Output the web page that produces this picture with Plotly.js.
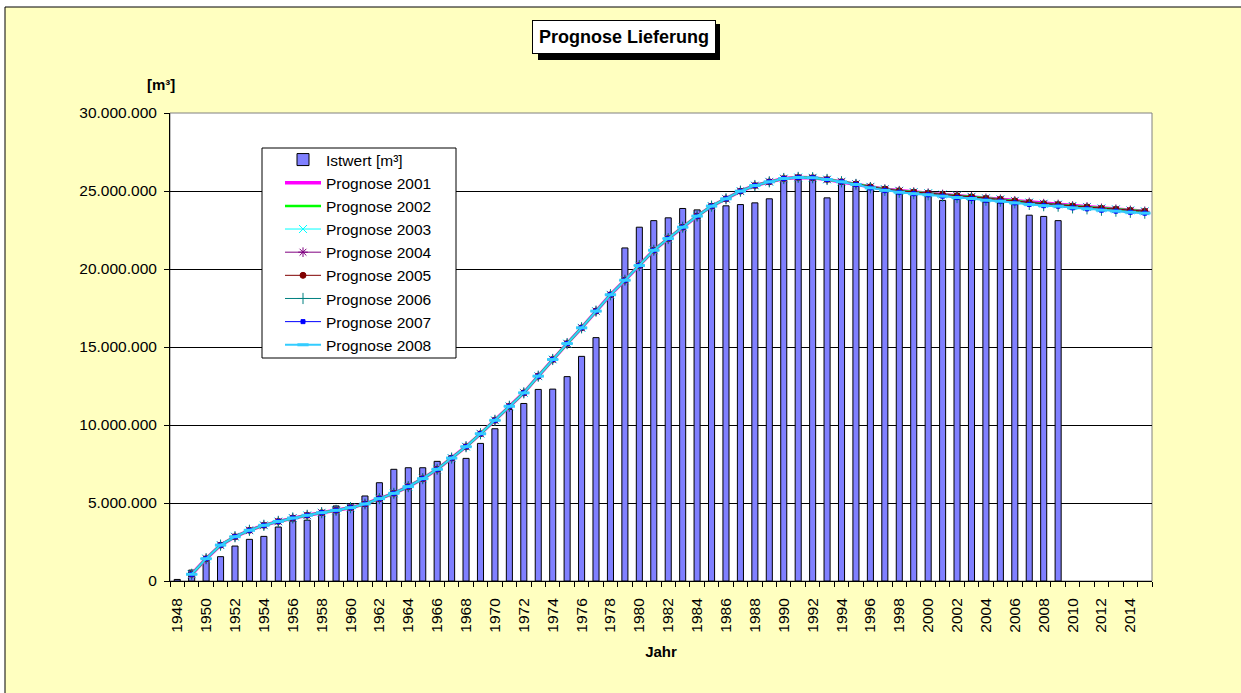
<!DOCTYPE html>
<html>
<head>
<meta charset="utf-8">
<script src="https://cdn.plot.ly/plotly-3.0.1.min.js"></script>
<style>html,body{margin:0;padding:0;background:#fff;}#chart{width:1241px;height:693px;}</style>
</head>
<body>
<div id="chart"></div>
<script>
// Categories (years)
const istYears = [1948,1949,1950,1951,1952,1953,1954,1955,1956,1957,1958,1959,1960,1961,1962,1963,1964,1965,1966,1967,1968,1969,1970,1971,1972,1973,1974,1975,1976,1977,1978,1979,1980,1981,1982,1983,1984,1985,1986,1987,1988,1989,1990,1991,1992,1993,1994,1995,1996,1997,1998,1999,2000,2001,2002,2003,2004,2005,2006,2007,2008,2009];
const progYears = [1949,1950,1951,1952,1953,1954,1955,1956,1957,1958,1959,1960,1961,1962,1963,1964,1965,1966,1967,1968,1969,1970,1971,1972,1973,1974,1975,1976,1977,1978,1979,1980,1981,1982,1983,1984,1985,1986,1987,1988,1989,1990,1991,1992,1993,1994,1995,1996,1997,1998,1999,2000,2001,2002,2003,2004,2005,2006,2007,2008,2009,2010,2011,2012,2013,2014,2015];

// Istwert in Mio. m³
const istwert = [0.1,0.7,1.5,1.56,2.24,2.67,2.86,3.46,3.85,3.9,4.3,4.81,4.95,5.45,6.3,7.16,7.26,7.26,7.67,8.0,7.86,8.82,9.76,11.0,11.38,12.28,12.3,13.1,14.4,15.6,18.3,21.35,22.68,23.1,23.28,23.88,23.79,24.13,24.05,24.13,24.24,24.5,25.7,26.0,26.0,24.56,25.7,25.5,25.3,25.27,24.88,24.88,24.88,24.4,24.67,24.75,24.3,24.24,24.3,23.45,23.37,23.1];

// Prognosen 2001–2005 (Mio. m³), practically identical curves
const prognoseAlt = [0.43,1.43,2.3,2.84,3.25,3.57,3.82,4.04,4.21,4.38,
  4.53,4.7,4.94,5.28,5.62,6.05,6.56,7.16,7.88,8.61,
  9.44,10.3,11.2,12.06,13.13,14.2,15.22,16.23,17.3,18.35,
  19.28,20.22,21.2,21.95,22.68,23.39,24.03,24.5,24.99,25.35,
  25.59,25.8,25.87,25.85,25.74,25.6,25.45,25.27,25.12,25.02,
  24.93,24.86,24.78,24.7,24.63,24.53,24.47,24.37,24.27,24.19,
  24.14,24.04,23.98,23.89,23.83,23.76,23.7];
// Prognosen 2006–2008 (Mio. m³)
const prognoseNeu = [0.43,1.43,2.3,2.84,3.25,3.57,3.82,4.04,4.21,4.38,
  4.53,4.7,4.94,5.28,5.62,6.05,6.56,7.16,7.88,8.61,
  9.44,10.3,11.2,12.06,13.13,14.2,15.22,16.23,17.3,18.35,
  19.28,20.22,21.2,21.95,22.68,23.39,24.03,24.5,24.99,25.35,
  25.59,25.8,25.87,25.85,25.74,25.59,25.42,25.2,25.04,24.92,
  24.83,24.76,24.67,24.58,24.52,24.41,24.35,24.24,24.14,24.06,
  24.03,23.92,23.86,23.77,23.71,23.64,23.58];

const xTickVals = [1948,1950,1952,1954,1956,1958,1960,1962,1964,1966,1968,1970,1972,1974,1976,1978,1980,1982,1984,1986,1988,1990,1992,1994,1996,1998,2000,2002,2004,2006,2008,2010,2012,2014];
const xTickText = ["1948","1950","1952","1954","1956","1958","1960","1962","1964","1966","1968","1970","1972","1974","1976","1978","1980","1982","1984","1986","1988","1990","1992","1994","1996","1998","2000","2002","2004","2006","2008","2010","2012","2014"];

const seriesNames = ["Prognose 2001","Prognose 2002","Prognose 2003","Prognose 2004","Prognose 2005","Prognose 2006","Prognose 2007","Prognose 2008"];
const seriesData = [prognoseAlt,prognoseAlt,prognoseAlt,prognoseAlt,prognoseAlt,prognoseNeu,prognoseNeu,prognoseNeu];

const MIO = 1e6;
const FONT = "Liberation Sans, Arial, sans-serif";

const styles = [
  {color:"#FF00FF", width:3.5, mode:"lines"},
  {color:"#00FF00", width:2.5, mode:"lines"},
  {color:"#00FFFF", width:1, mode:"lines+markers", symbol:"x-thin-open", size:8},
  {color:"#800080", width:1, mode:"lines+markers", symbol:"asterisk-open", size:8},
  {color:"#800000", width:1, mode:"lines+markers", symbol:"circle", size:6},
  {color:"#008080", width:1, mode:"lines+markers", symbol:"cross-thin-open", size:8},
  {color:"#0000FF", width:1, mode:"lines+markers", symbol:"square", size:4},
  {color:"#33CCFF", width:2, mode:"lines+markers", symbol:"line-ew-open", size:8}
];

const traces = [{
  type:"bar", name:"Istwert [m³]",
  x: istYears, y: istwert.map(v => v*MIO),
  width: 0.42,
  marker:{color:"#8080FF", line:{color:"#000000", width:1}}
}];
seriesNames.forEach((n,i) => {
  const s = styles[i];
  const t = {type:"scatter", name:n, x:progYears, y:seriesData[i].map(v=>v*MIO),
    mode:s.mode, line:{color:s.color, width:s.width}};
  if (s.symbol) t.marker = {symbol:s.symbol, size:s.size, color:s.color, line:{color:s.color, width:s.symbol==="line-ew-open"?3:1}};
  traces.push(t);
});

const boundaries = [];
for (let v = 1947.5; v <= 2015.5; v += 1) boundaries.push(v);

const W = 1241, H = 693, L = 170, R = 1152, T = 113, B = 581;
const px = x => (x - L) / (R - L);
const py = y => (B - y) / (B - T);

const layout = {
  width: W, height: H,
  margin:{l:L, r:W-R, t:T, b:H-B, pad:0},
  paper_bgcolor:"#FFFFFF",
  plot_bgcolor:"rgba(0,0,0,0)",
  separators:",.",
  font:{family:FONT, color:"#000000", size:15.5},
  showlegend:true,
  bargap:0,
  xaxis:{
    type:"linear", range:[1947.5, 2015.5], fixedrange:true,
    tickmode:"array", tickvals:xTickVals, ticktext:xTickText,
    tickangle:-90, ticks:"", showgrid:false, zeroline:false,
    showline:true, linecolor:"#000000", linewidth:1,
    tickfont:{family:FONT, size:15.5, color:"#000000"},
    ticklabelstandoff:10,
    minor:{tickvals:boundaries, ticks:"outside", ticklen:5, tickcolor:"#000000", tickwidth:1, showgrid:false},
    title:{text:"<b>Jahr</b>", font:{family:FONT, size:15, color:"#000000"}, standoff:14}
  },
  yaxis:{
    range:[0, 30*MIO], tick0:0, dtick:5*MIO, tickformat:",d", fixedrange:true,
    ticks:"outside", ticklen:5, tickcolor:"#000000", tickwidth:1,
    showline:true, linecolor:"#000000", linewidth:1,
    showgrid:true, gridcolor:"#000000", gridwidth:1, zeroline:false,
    tickfont:{family:FONT, size:15.5, color:"#000000"},
    ticklabelstandoff:4
  },
  legend:{
    x:px(280), y:py(143), xanchor:"left", yanchor:"top",
    bgcolor:"rgba(0,0,0,0)", borderwidth:0,
    font:{family:FONT, size:15.5, color:"#000000"},
    traceorder:"normal", tracegroupgap:0, itemwidth:36
  },
  shapes:[
    // chart area background + top/left frame
    {type:"rect", xref:"paper", yref:"paper", x0:px(5), x1:px(1260), y0:py(720), y1:py(7),
      fillcolor:"#FFFFC0", line:{width:0}, layer:"below"},
    {type:"line", xref:"paper", yref:"paper", x0:px(5), x1:px(1260), y0:py(7), y1:py(7),
      line:{color:"#000000", width:1}, layer:"below"},
    {type:"line", xref:"paper", yref:"paper", x0:px(5), x1:px(5), y0:py(720), y1:py(7),
      line:{color:"#000000", width:1}, layer:"below"},
    // plot area
    {type:"rect", xref:"paper", yref:"paper", x0:0, x1:1, y0:0, y1:1,
      fillcolor:"#FFFFFF", line:{color:"#808080", width:1}, layer:"below"},
    // legend box
    {type:"rect", xref:"paper", yref:"paper", x0:px(262), x1:px(456), y0:py(358), y1:py(148),
      fillcolor:"#FFFFFF", line:{color:"#000000", width:1}, layer:"above"},
    // title shadow
    {type:"rect", xref:"paper", yref:"paper", x0:px(538), x1:px(720), y0:py(60), y1:py(24),
      fillcolor:"#000000", line:{width:0}, layer:"above"}
  ],
  annotations:[
    {xref:"paper", yref:"paper", x:px(624), y:py(37), xanchor:"center", yanchor:"middle",
      text:"<b>Prognose Lieferung</b>", showarrow:false,
      font:{family:FONT, size:18, color:"#000000"},
      bgcolor:"#FFFFFF", bordercolor:"#000000", borderwidth:1, borderpad:6},
    {xref:"paper", yref:"paper", x:px(161), y:py(84), xanchor:"center", yanchor:"middle",
      text:"<b>[m³]</b>", showarrow:false, font:{family:FONT, size:15, color:"#000000"}}
  ]
};

Plotly.newPlot("chart", traces, layout, {displayModeBar:false, staticPlot:true});
</script>
</body>
</html>
